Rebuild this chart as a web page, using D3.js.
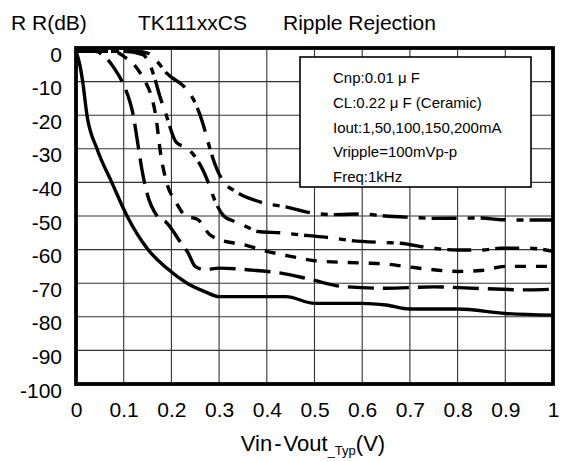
<!DOCTYPE html>
<html>
<head>
<meta charset="utf-8">
<script src="https://cdn.jsdelivr.net/npm/d3@7"></script>
<style>
  html, body { margin: 0; padding: 0; background: #fff; }
  svg { display: block; font-family: "Liberation Sans", Arial, sans-serif; }
</style>
</head>
<body>
<svg id="chart" width="565" height="461"></svg>
<script>
// Axis ticks
const xTicks = [0, 0.1, 0.2, 0.3, 0.4, 0.5, 0.6, 0.7, 0.8, 0.9, 1];
const xTickLabels = ["0", "0.1", "0.2", "0.3", "0.4", "0.5", "0.6", "0.7", "0.8", "0.9", "1"];
const yTicks = [0, -10, -20, -30, -40, -50, -60, -70, -80, -90, -100];
const yTickLabels = ["0", "-10", "-20", "-30", "-40", "-50", "-60", "-70", "-80", "-90", "-100"];

// Ripple rejection (dB) vs Vin-Vout (V), one series per output current
const iout1 = [[0,-1],[0.008,-5],[0.014,-10],[0.023,-20],[0.044,-30],[0.075,-40],[0.107,-50],[0.151,-60],[0.19,-65.5],[0.233,-70],[0.27,-72.5],[0.3,-74],[0.44,-74],[0.5,-76],[0.6,-76],[0.65,-76.5],[0.7,-77.7],[0.8,-77.7],[0.9,-79],[1,-79.5]];
const iout50 = [[0,-1],[0.04,-1],[0.06,-2.5],[0.08,-6],[0.1,-11],[0.113,-16],[0.12,-20],[0.128,-27],[0.138,-36],[0.145,-41],[0.17,-50],[0.19,-52],[0.22,-58],[0.235,-61],[0.25,-65],[0.27,-66],[0.3,-65.5],[0.36,-66],[0.43,-67],[0.49,-68.8],[0.56,-71],[0.65,-71.5],[0.75,-71.1],[0.85,-71.6],[0.95,-72],[1,-71.8]];
const iout100 = [[0,-1],[0.08,-1],[0.1,-2.5],[0.125,-5.5],[0.145,-10],[0.155,-13],[0.167,-20],[0.178,-32],[0.19,-40],[0.21,-46],[0.23,-50],[0.255,-51],[0.28,-55.5],[0.3,-57],[0.35,-58.5],[0.4,-60.5],[0.45,-62],[0.5,-63.3],[0.6,-64],[0.65,-64.3],[0.7,-65.2],[0.75,-66],[0.8,-66.5],[0.85,-66.2],[0.9,-65],[1,-65]];
const iout150 = [[0,-1],[0.1,-1],[0.14,-2],[0.155,-5],[0.165,-9],[0.175,-14],[0.187,-19],[0.21,-28],[0.235,-30],[0.265,-36],[0.28,-41],[0.29,-45],[0.31,-50],[0.33,-51.5],[0.35,-52.7],[0.386,-54.7],[0.43,-55],[0.476,-55.7],[0.5,-56],[0.54,-56.6],[0.57,-57.2],[0.648,-57.9],[0.68,-58.1],[0.746,-59.6],[0.8,-60.1],[0.85,-60.1],[0.89,-59.6],[0.95,-59.6],[1,-60.5]];
const iout200 = [[0,-1],[0.13,-1],[0.15,-1.5],[0.17,-4],[0.19,-7.5],[0.23,-12],[0.245,-15],[0.265,-22],[0.275,-27],[0.285,-32],[0.31,-40],[0.33,-42.3],[0.39,-46],[0.44,-47.3],[0.49,-49],[0.54,-49.6],[0.6,-49.4],[0.648,-50],[0.7,-50.4],[0.75,-50.7],[0.85,-50.6],[0.89,-51.1],[0.95,-51.2],[1,-51.2]];

const legendLines = ["Cnp:0.01 \u03bc F", "CL:0.22 \u03bc F (Ceramic)", "Iout:1,50,100,150,200mA", "Vripple=100mVp-p", "Freq:1kHz"];

const series = [
  { data: iout1, dash: null },
  { data: iout50, dash: "26,9" },
  { data: iout100, dash: "11,10" },
  { data: iout150, dash: "24,11,7,6" },
  { data: iout200, dash: "25,11,7,6" }
];

const svg = d3.select("#chart");
const plotLeft = 76, plotRight = 553, plotTop = 48, plotBottom = 384;

const x = d3.scaleLinear().domain([0, 1]).range([plotLeft, plotRight]);
const y = d3.scaleLinear().domain([-100, 0]).range([plotBottom, plotTop]);

// Title row
const title = svg.append("g").attr("font-size", 21).attr("fill", "#000");
title.append("text").attr("x", 11).attr("y", 30).text("R R(dB)");
title.append("text").attr("x", 138).attr("y", 30).text("TK111xxCS");
title.append("text").attr("x", 283).attr("y", 30).text("Ripple Rejection");

// Grid
const grid = svg.append("g").attr("stroke", "#333").attr("stroke-width", 1.1);
grid.selectAll("line.v").data(xTicks.slice(1, -1)).join("line")
  .attr("x1", d => x(d)).attr("x2", d => x(d))
  .attr("y1", plotTop).attr("y2", plotBottom);
grid.selectAll("line.h").data(yTicks.slice(1, -1)).join("line")
  .attr("x1", plotLeft).attr("x2", plotRight)
  .attr("y1", d => y(d)).attr("y2", d => y(d));

// Legend box (covers the grid behind it)
const lg = svg.append("g");
lg.append("rect").attr("x", 300).attr("y", 57).attr("width", 231).attr("height", 130)
  .attr("fill", "#fff").attr("stroke", "#000").attr("stroke-width", 1.6);
lg.selectAll("text").data(legendLines).join("text")
  .attr("x", 333).attr("y", (d, i) => 83 + i * 24.8)
  .attr("font-size", 15).text(d => d);

// Curves
const line = d3.line().x(d => x(d[0])).y(d => y(d[1])).curve(d3.curveMonotoneX);
svg.append("g").selectAll("path").data(series).join("path")
  .attr("d", d => line(d.data))
  .attr("fill", "none").attr("stroke", "#000").attr("stroke-width", 3.4)
  .attr("stroke-dasharray", d => d.dash);

// Frame
svg.append("rect").attr("x", plotLeft).attr("y", plotTop)
  .attr("width", plotRight - plotLeft).attr("height", plotBottom - plotTop)
  .attr("fill", "none").attr("stroke", "#000").attr("stroke-width", 3.8);

// Tick labels via d3 axes
const yAxis = d3.axisLeft(y).tickValues(yTicks).tickSize(0).tickPadding(14)
  .tickFormat((d, i) => yTickLabels[i]);
const gy = svg.append("g").attr("transform", `translate(${plotLeft},0)`).call(yAxis);
gy.select(".domain").remove();
gy.selectAll("text").attr("font-size", 21).attr("fill", "#000")
  .attr("font-family", "Liberation Sans, Arial, sans-serif").attr("dy", "0.62em");

const xAxis = d3.axisBottom(x).tickValues(xTicks).tickSize(0).tickPadding(18)
  .tickFormat((d, i) => xTickLabels[i]);
const gx = svg.append("g").attr("transform", `translate(0,${plotBottom})`).call(xAxis);
gx.select(".domain").remove();
gx.selectAll("text").attr("font-size", 21).attr("fill", "#000")
  .attr("font-family", "Liberation Sans, Arial, sans-serif");

// X axis title
const xt = svg.append("text").attr("x", 313).attr("y", 451)
  .attr("text-anchor", "middle").attr("font-size", 22);
xt.append("tspan").text("Vin");
xt.append("tspan").attr("dx", 2).text("-");
xt.append("tspan").attr("dx", 2).text("Vout");
xt.append("tspan").attr("font-size", 13).attr("dy", 4).text("_Typ");
xt.append("tspan").attr("dy", -4).text("(V)");
</script>
</body>
</html>
